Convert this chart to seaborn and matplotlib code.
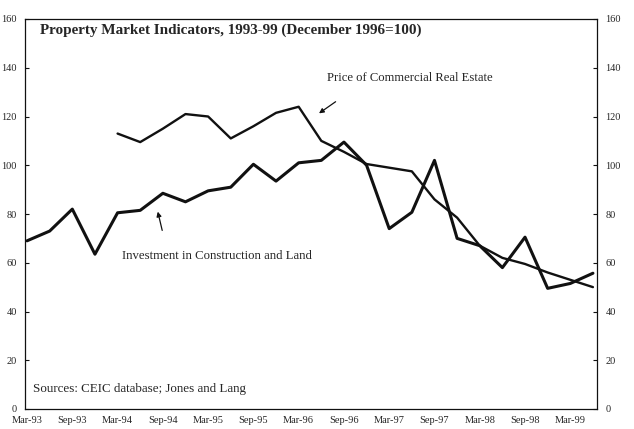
import pandas as pd
import matplotlib
matplotlib.use("Agg")
import matplotlib.pyplot as plt
import seaborn as sns

# 数据：季度，1993年3月 - 1999年6月
quarters = ['Mar-93', 'Jun-93', 'Sep-93', 'Dec-93', 'Mar-94', 'Jun-94', 'Sep-94', 'Dec-94',
            'Mar-95', 'Jun-95', 'Sep-95', 'Dec-95', 'Mar-96', 'Jun-96', 'Sep-96', 'Dec-96',
            'Mar-97', 'Jun-97', 'Sep-97', 'Dec-97', 'Mar-98', 'Jun-98', 'Sep-98', 'Dec-98',
            'Mar-99', 'Jun-99']
investment = [69, 73, 82, 63.5, 80.5, 81.5, 88.5, 85, 89.5, 91, 100.4, 93.5, 101, 102,
              109.5, 100, 74, 80.7, 102, 70, 67, 58, 70.5, 49.5, 51.5, 55.7]
price = [None, None, None, None, 113, 109.5, 115, 121, 120, 111, 116, 121.5, 124, 110,
         105.5, 100.5, 99, 97.5, 86, 78.5, 67, 62, 59.5, 56, 53, 50]
y_ticks = [0, 20, 40, 60, 80, 100, 120, 140, 160]

df = pd.DataFrame({'idx': range(len(quarters)), 'quarter': quarters,
                   'Investment': investment, 'Price': price})

sns.set_style("white")
plt.rcParams['font.family'] = ['Liberation Serif', 'DejaVu Serif']

fig = plt.figure(figsize=(6.34, 4.29), dpi=100)
ax = fig.add_axes([25 / 634, 1 - 409 / 429, 572 / 634, 390 / 429])

sns.lineplot(data=df, x='idx', y='Investment', color='#111111', linewidth=2.2, ax=ax)
sns.lineplot(data=df.dropna(subset=['Price']), x='idx', y='Price', color='#111111',
             linewidth=1.7, ax=ax)

ax.set_xlim(-0.09, 25.18)
ax.set_ylim(0, 160)
ax.set_xlabel('')
ax.set_ylabel('')

ax.set_xticks(range(len(quarters)))
ax.set_xticklabels([q if i % 2 == 0 else '' for i, q in enumerate(quarters)], fontsize=7.5)
ax.set_yticks(y_ticks)
ax.set_yticklabels([str(v) for v in y_ticks], fontsize=7.5)
ax.tick_params(axis='x', direction='in', length=3, width=0.8, pad=5, color='#111111')
ax.tick_params(axis='y', left=True, right=True, labelright=True, direction='in',
               length=3, width=0.8, pad=6, color='#111111')

for s in ax.spines.values():
    s.set_color('#111111')
    s.set_linewidth(0.9)

# 标题和说明文字
ax.text(0.026, 0.972, 'Property Market Indicators, 1993-99 (December 1996=100)',
        transform=ax.transAxes, fontsize=10.9, fontweight='bold', ha='left', va='center')
ax.text(0.528, 0.849, 'Price of Commercial Real Estate', transform=ax.transAxes,
        fontsize=9.1, ha='left', va='center')
ax.text(0.170, 0.392, 'Investment in Construction and Land', transform=ax.transAxes,
        fontsize=9.2, ha='left', va='center')
ax.text(0.014, 0.051, 'Sources: CEIC database; Jones and Lang', transform=ax.transAxes,
        fontsize=9.4, ha='left', va='center')

arrow = dict(arrowstyle='-|>', color='#111111', lw=0.9, mutation_scale=7)
ax.annotate('', xy=(0.510, 0.754), xytext=(0.547, 0.792), xycoords='axes fraction',
            textcoords='axes fraction', arrowprops=arrow)
ax.annotate('', xy=(0.231, 0.513), xytext=(0.241, 0.451), xycoords='axes fraction',
            textcoords='axes fraction', arrowprops=arrow)

fig.savefig('out.png', dpi=100)
